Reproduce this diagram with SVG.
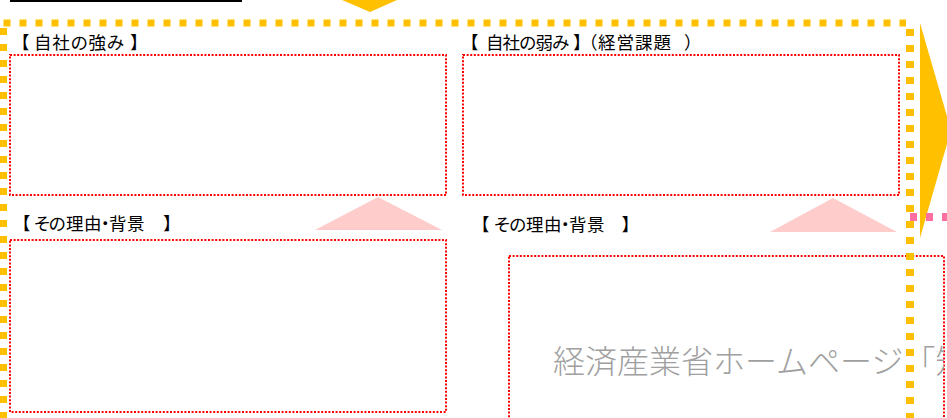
<svg xmlns="http://www.w3.org/2000/svg" width="947" height="418" viewBox="0 0 947 418">
<style>
.lbl{font-family:"Noto Sans CJK JP","Noto Sans",sans-serif;font-size:17.5px;font-weight:400;fill:#000000}
.box{fill:#ffffff;stroke:#ff0000;stroke-width:2;stroke-dasharray:2 1.6}
.ybor{fill:none;stroke:#ffc000;stroke-dasharray:7 9}
.pinktri{fill:#ffcccc}
.big{font-family:"Noto Sans CJK JP","Noto Sans",sans-serif;font-size:32px;fill:#a0a0a0;font-weight:300}
</style>
<defs>
<clipPath id="c4"><rect x="509" y="256" width="435" height="170"/></clipPath>
</defs>
<rect width="947" height="418" fill="#ffffff"/>
<g id="topline"><line x1="10" y1="1" x2="242" y2="1" stroke="#000000" stroke-width="2"/></g>
<g id="node-strength">
<rect class="box" x="10" y="55" width="436" height="140"/>
<text class="lbl" x="12 29 34 52.2 70.4 88.6 106.8 124 130" y="49">【 自社の強み 】</text>
</g>
<g id="node-weakness">
<rect class="box" x="463" y="55" width="436" height="140"/>
<text class="lbl" x="461 479 486 502.5 519 535.5 552 568 573 580 598 616.5 635 653.5 684" y="49">【 自社の弱み 】（経営課題）</text>
</g>
<g id="node-reason-left">
<rect class="box" x="10" y="240" width="436" height="172"/>
<text class="lbl" x="13 29 33.5 48.5 66 84 96.5 109 127 145 163" y="230">【 その理由・背景 】</text>
</g>
<g id="node-reason-right">
<rect class="box" x="509" y="256" width="435" height="200"/>
<text class="lbl" x="472 488 493.5 509 526 544 556.5 569 587 605 621.5" y="231">【 その理由・背景 】</text>
<text class="big" x="553" y="373" clip-path="url(#c4)">経済産業省ホームページ「知</text>
</g>
<g id="connectors">
<polygon points="342,0 397,0 370,12" fill="#ffc000"/>
<polygon class="pinktri" points="315,230 378,197 442,230"/>
<polygon class="pinktri" points="770,232 833,198 897,232"/>
<polygon points="920,23 951,130 920,238" fill="#ffc000"/>
<path class="ybor" d="M3.5,23 H906" stroke-width="7"/>
<path class="ybor" d="M3.5,28 V418" stroke-width="7"/>
<path class="ybor" d="M910,29 V418" stroke-width="8"/>
<path d="M910,217 H947" stroke="#ff6ea0" stroke-width="8" stroke-dasharray="7 9" fill="none"/>
</g>
</svg>
